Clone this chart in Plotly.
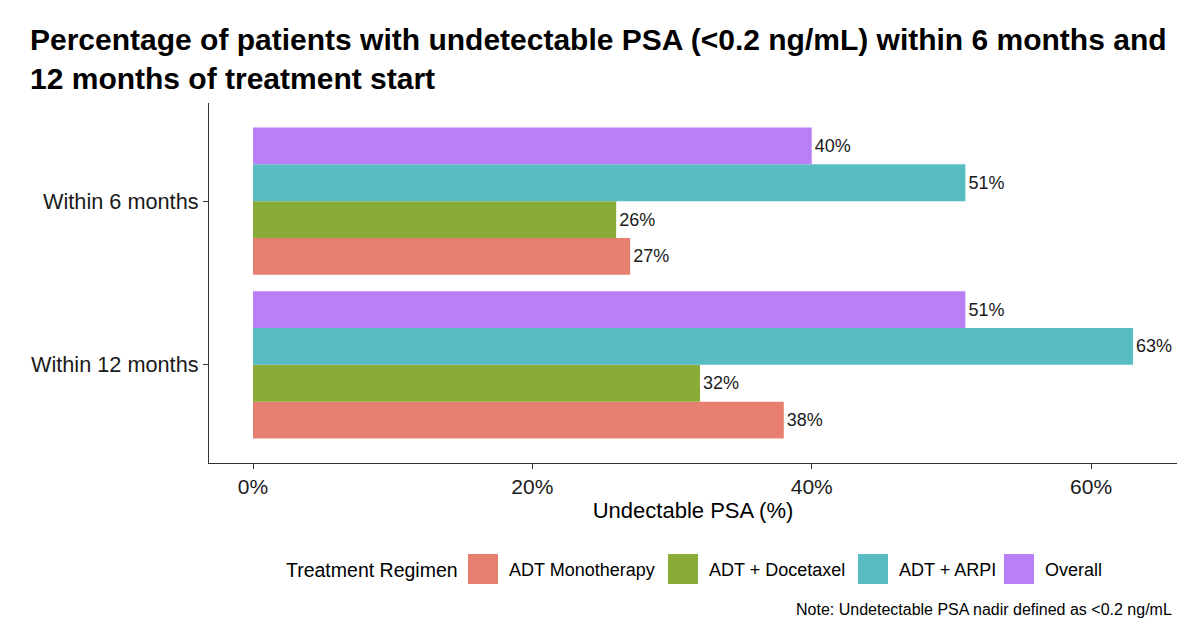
import plotly.graph_objects as go

categories = ["Within 12 months", "Within 6 months"]
regimens = ["ADT Monotherapy", "ADT + Docetaxel", "ADT + ARPI", "Overall"]
colors = ["#E77F70", "#88AC35", "#57BDC3", "#B97FF6"]
values = {
    "ADT Monotherapy": [38, 27],
    "ADT + Docetaxel": [32, 26],
    "ADT + ARPI": [63, 51],
    "Overall": [51, 40],
}
x_ticks = [0, 20, 40, 60]

FONT = "Liberation Sans, Arial, Helvetica, sans-serif"

W, H = 1200, 634
L, R, T, B = 209, 1177, 103, 463

fig = go.Figure()
for reg, col in zip(regimens, colors):
    v = values[reg]
    fig.add_trace(go.Bar(
        y=categories, x=v, name=reg, orientation="h",
        marker=dict(color=col, line=dict(width=0)),
        text=[f"{val}%" for val in v], textposition="outside",
        textfont=dict(size=18, color="#1a1a1a", family=FONT),
        cliponaxis=False, showlegend=False,
    ))

fig.update_layout(
    width=W, height=H,
    margin=dict(l=L, r=W - R, t=T, b=H - B),
    paper_bgcolor="white", plot_bgcolor="white",
    barmode="group", bargap=0.1, bargroupgap=0,
    font=dict(family=FONT, color="#1a1a1a"),
    title=dict(
        text="Percentage of patients with undetectable PSA (<0.2 ng/mL) within 6 months and<br>12 months of treatment start",
        x=30 / W, xanchor="left", xref="container",
        y=1 - 50 / H, yanchor="top", yref="container",
        font=dict(size=30, family=FONT, color="black", weight="bold"),
    ),
)
fig.update_xaxes(
    range=[-3.15, 66.15], tickvals=x_ticks, ticktext=[f"{t}%" for t in x_ticks],
    showgrid=False, zeroline=False, showline=True, linecolor="#333333", linewidth=1.2,
    ticks="outside", ticklen=5, tickcolor="#333333", tickwidth=1.2,
    tickfont=dict(size=21, color="#1a1a1a"),
    title=dict(text="Undectable PSA (%)", font=dict(size=22, color="black"), standoff=4),
)
fig.update_yaxes(
    categoryorder="array", categoryarray=categories, range=[-0.6, 1.6],
    showgrid=False, zeroline=False, showline=True, linecolor="#333333", linewidth=1.2,
    ticks="outside", ticklen=5, tickcolor="#333333", tickwidth=1.2,
    tickfont=dict(size=21.7, color="#1a1a1a"),
)

# Legend drawn manually (ggplot-style large keys); paper coords are plot-area relative
def px(x):
    return (x - L) / (R - L)
def py(y):
    return (B - y) / (B - T)

ann = []
shapes = []
ann.append(dict(text="Treatment Regimen", x=px(284), y=py(570), xref="paper", yref="paper",
                xanchor="left", yanchor="middle", showarrow=False,
                font=dict(size=19.5, color="black")))
key_x = [468, 668, 858, 1004]
for reg, col, kx in zip(regimens, colors, key_x):
    shapes.append(dict(type="rect", xref="paper", yref="paper",
                       x0=px(kx), x1=px(kx + 30), y0=py(584), y1=py(554),
                       fillcolor=col, line=dict(width=0)))
    ann.append(dict(text=reg, x=px(kx + 39), y=py(570), xref="paper", yref="paper",
                    xanchor="left", yanchor="middle", showarrow=False,
                    font=dict(size=18, color="black")))
ann.append(dict(text="Note: Undetectable PSA nadir defined as <0.2 ng/mL",
                x=px(1174), y=py(609), xref="paper", yref="paper",
                xanchor="right", yanchor="middle", showarrow=False,
                font=dict(size=16, color="black")))
fig.update_layout(annotations=ann, shapes=shapes)

fig.write_html("out.html")
